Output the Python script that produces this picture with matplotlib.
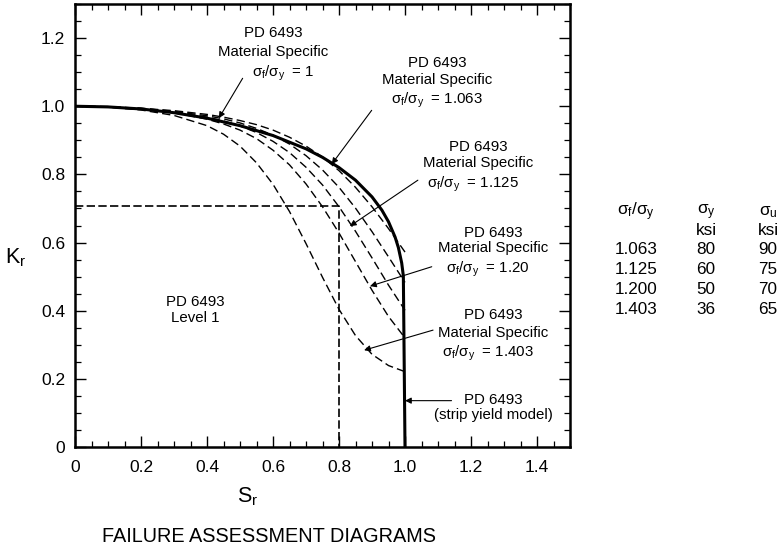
import matplotlib
matplotlib.use("Agg")
import matplotlib.pyplot as plt
from matplotlib.ticker import FixedLocator, MultipleLocator, FixedFormatter

plt.rcParams['font.family'] = ['Liberation Sans', 'DejaVu Sans']
plt.rcParams['mathtext.fontset'] = 'custom'
plt.rcParams['mathtext.rm'] = 'Liberation Sans'
plt.rcParams['mathtext.it'] = 'Liberation Sans'
plt.rcParams['mathtext.bf'] = 'Liberation Sans:bold'

# ---- data -------------------------------------------------------------
# strip yield model (solid curve with cut-off at Sr = 1)
sr_strip = [0.0, 0.1, 0.2, 0.3, 0.4, 0.5, 0.6, 0.7, 0.75, 0.8, 0.85, 0.9,
            0.93, 0.95, 0.97, 0.98, 0.99, 0.995, 1.0]
kr_strip = [1.0, 0.998, 0.992, 0.981, 0.965, 0.943, 0.914, 0.875, 0.850, 0.820,
            0.783, 0.734, 0.695, 0.661, 0.616, 0.585, 0.540, 0.502, 0.0]

# material specific curves (dashed)
sr_ms = [0.0, 0.1, 0.2, 0.3, 0.4, 0.45, 0.5, 0.55, 0.6, 0.65, 0.7, 0.75,
         0.8, 0.85, 0.9, 0.95, 1.0]
kr_ms_1000 = [1.0, 0.999, 0.994, 0.987, 0.976, 0.968, 0.958, 0.946, 0.930,
              0.909, 0.883, 0.851, 0.811, 0.762, 0.705, 0.641, 0.572]
kr_ms_1063 = [1.0, 0.998, 0.994, 0.985, 0.972, 0.963, 0.951, 0.935, 0.915,
              0.889, 0.855, 0.813, 0.762, 0.701, 0.632, 0.558, 0.483]
kr_ms_1125 = [1.0, 0.998, 0.993, 0.983, 0.968, 0.957, 0.942, 0.923, 0.897,
              0.864, 0.821, 0.769, 0.705, 0.633, 0.555, 0.475, 0.401]
kr_ms_1200 = [1.0, 0.998, 0.992, 0.981, 0.962, 0.948, 0.930, 0.905, 0.871,
              0.828, 0.772, 0.705, 0.628, 0.544, 0.460, 0.383, 0.320]
kr_ms_1403 = [1.0, 0.997, 0.989, 0.973, 0.943, 0.918, 0.883, 0.834, 0.771,
              0.691, 0.597, 0.498, 0.404, 0.327, 0.272, 0.239, 0.221]

# level 1 rectangle
level1_sr = [0.0, 0.8, 0.8]
level1_kr = [0.707, 0.707, 0.0]

# axis ticks
xticks = [0, 0.2, 0.4, 0.6, 0.8, 1.0, 1.2, 1.4]
xtick_labels = ['0', '0.2', '0.4', '0.6', '0.8', '1.0', '1.2', '1.4']
yticks = [0, 0.2, 0.4, 0.6, 0.8, 1.0, 1.2]
ytick_labels = ['0', '0.2', '0.4', '0.6', '0.8', '1.0', '1.2']

# material table
ratio_col = ['1.063', '1.125', '1.200', '1.403']
sy_col = ['80', '60', '50', '36']
su_col = ['90', '75', '70', '65']

# ---- figure -----------------------------------------------------------
W, H = 783, 550
fig = plt.figure(figsize=(W / 100, H / 100), dpi=100)
ax = fig.add_axes([75 / W, 1 - 447 / H, (570 - 75) / W, (447 - 4) / H])

dash = (0, (6, 3))
for kr in (kr_ms_1000, kr_ms_1063, kr_ms_1125, kr_ms_1200, kr_ms_1403):
    ax.plot(sr_ms, kr, color='black', lw=1.0, linestyle=dash)
ax.plot(level1_sr, level1_kr, color='black', lw=1.2, linestyle=(0, (5, 2)))
ax.plot(sr_strip, kr_strip, color='black', lw=2.2, solid_joinstyle='round')

ax.set_xlim(0, 1.5)
ax.set_ylim(0, 1.3)
ax.xaxis.set_major_locator(FixedLocator(xticks))
ax.xaxis.set_major_formatter(FixedFormatter(xtick_labels))
ax.yaxis.set_major_locator(FixedLocator(yticks))
ax.yaxis.set_major_formatter(FixedFormatter(ytick_labels))
ax.xaxis.set_minor_locator(MultipleLocator(0.05))
ax.yaxis.set_minor_locator(MultipleLocator(0.05))
ax.tick_params(which='both', direction='in', top=True, right=True, color='black')
ax.tick_params(which='major', length=8, width=1.0, labelsize=12.5)
ax.tick_params(axis='x', which='major', pad=9.5)
ax.tick_params(axis='y', which='major', pad=7)
ax.tick_params(which='minor', length=4, width=0.9)
for s in ax.spines.values():
    s.set_linewidth(1.8)

fs = 10.8
def block(x, ys, lines, xs=None):
    for i, (y, t) in enumerate(zip(ys, lines)):
        xx = x if xs is None else xs[i]
        ax.text(xx, y, t, ha='center', va='center', fontsize=fs)

ratio = r'$\sigma_f/\sigma_y$'
block(0.600, [1.214, 1.158, 1.097],
      ['PD 6493', 'Material Specific', ratio + '  = 1'], xs=[0.600, 0.600, 0.630])
block(1.097, [1.126, 1.076, 1.018],
      ['PD 6493', 'Material Specific', ratio + '  = 1.063'])
block(1.221, [0.880, 0.833, 0.771],
      ['PD 6493', 'Material Specific', ratio + '  = 1.125'], xs=[1.221, 1.221, 1.205])
block(1.267, [0.628, 0.584, 0.522],
      ['PD 6493', 'Material Specific', ratio + '  = 1.20'], xs=[1.267, 1.267, 1.250])
block(1.267, [0.387, 0.334, 0.276],
      ['PD 6493', 'Material Specific', ratio + '  = 1.403'], xs=[1.267, 1.267, 1.252])
block(0.364, [0.425, 0.378], ['PD 6493', 'Level 1'])
block(1.267, [0.138, 0.094], ['PD 6493', '(strip yield model)'])

arrows = [((0.508, 1.082), (0.436, 0.965)),
          ((0.899, 0.988), (0.778, 0.830)),
          ((1.039, 0.783), (0.833, 0.648)),
          ((1.081, 0.529), (0.894, 0.472)),
          ((1.085, 0.343), (0.876, 0.284)),
          ((1.141, 0.136), (1.0, 0.136))]
for tail, head in arrows:
    ax.annotate('', xy=head, xytext=tail,
                arrowprops=dict(arrowstyle='-|>', color='black', lw=0.8,
                                mutation_scale=9, shrinkA=0, shrinkB=0))

# axis labels and caption
fig.text(16 / W, 1 - 258 / H, r'$\mathregular{K_r}$', fontsize=15.5, ha='center', va='center')
fig.text(248 / W, 1 - 497 / H, r'$\mathregular{S_r}$', fontsize=15.5, ha='center', va='center')
fig.text(269 / W, 1 - 537 / H, 'FAILURE ASSESSMENT DIAGRAMS', fontsize=14.3,
         ha='center', va='center')

# table of material properties
tfs = 12.3
cx = [636, 706, 768]
fig.text(cx[0] / W, 1 - 212 / H, r'$\sigma_f/\sigma_y$', fontsize=tfs, ha='center', va='center')
fig.text(cx[1] / W, 1 - 212 / H, r'$\sigma_y$', fontsize=tfs, ha='center', va='center')
fig.text(cx[2] / W, 1 - 212 / H, r'$\sigma_u$', fontsize=tfs, ha='center', va='center')
fig.text(cx[1] / W, 1 - 231 / H, 'ksi', fontsize=tfs, ha='center', va='center')
fig.text(cx[2] / W, 1 - 231 / H, 'ksi', fontsize=tfs, ha='center', va='center')
row_y = [250, 269.5, 289, 309]
for i, y in enumerate(row_y):
    fig.text(cx[0] / W, 1 - y / H, ratio_col[i], fontsize=tfs, ha='center', va='center')
    fig.text(cx[1] / W, 1 - y / H, sy_col[i], fontsize=tfs, ha='center', va='center')
    fig.text(cx[2] / W, 1 - y / H, su_col[i], fontsize=tfs, ha='center', va='center')

fig.savefig('out.png', dpi=100)
